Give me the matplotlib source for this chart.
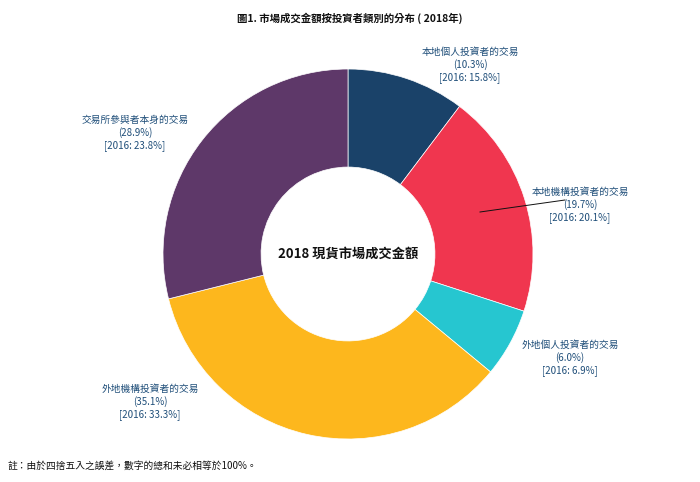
import matplotlib.pyplot as plt

plt.rcParams['font.family'] = ['Noto Sans CJK TC', 'DejaVu Sans']

# data
categories = ['本地個人投資者的交易', '本地機構投資者的交易', '外地個人投資者的交易',
              '外地機構投資者的交易', '交易所參與者本身的交易']
share_2018 = [10.3, 19.7, 6.0, 35.1, 28.9]
share_2016 = [15.8, 20.1, 6.9, 33.3, 23.8]
colors = ['#1a4269', '#f0364f', '#26c6d0', '#fdb71d', '#5e3869']
# label centres in pixels (x, y from top)
label_pos = [(470, 65), (580, 205), (570, 358), (150, 402), (135, 133)]

W, H = 700, 482
fig = plt.figure(figsize=(W / 100, H / 100), dpi=100)
cx, cy, r = 348, 254, 185
ax = fig.add_axes([(cx - r) / W, (H - cy - r) / H, 2 * r / W, 2 * r / H])
ax.pie(share_2018, colors=colors, startangle=90, counterclock=False,
       wedgeprops=dict(width=0.53, edgecolor='white', linewidth=0.5))
ax.set_xlim(-1, 1)
ax.set_ylim(-1, 1)
ax.set_aspect('equal')
ax.text(0, 0, '2018 現貨市場成交金額', ha='center', va='center',
        fontsize=9.5, fontweight='bold', color='#111111')

for cat, v18, v16, (x, y) in zip(categories, share_2018, share_2016, label_pos):
    fig.text(x / W, 1 - y / H, f'{cat}\n({v18:.1f}%)\n[2016: {v16:.1f}%]',
             ha='center', va='center', fontsize=7, color='#1f4e79', linespacing=1.3)

# leader line for the label that sits over the ring
fig.add_artist(plt.Line2D([480 / W, 565 / W], [1 - 212 / H, 1 - 200 / H],
                          color='#111111', linewidth=0.7))

fig.text(0.5, 1 - 18 / H, '圖1. 市場成交金額按投資者類別的分布 ( 2018年)',
         ha='center', va='center', fontsize=7.5, fontweight='bold', color='#111111')
fig.text(8 / W, 1 - 466 / H, '註：由於四捨五入之誤差，數字的總和未必相等於100%。',
         ha='left', va='center', fontsize=7, color='#111111')

fig.savefig('out.png', dpi=100)
